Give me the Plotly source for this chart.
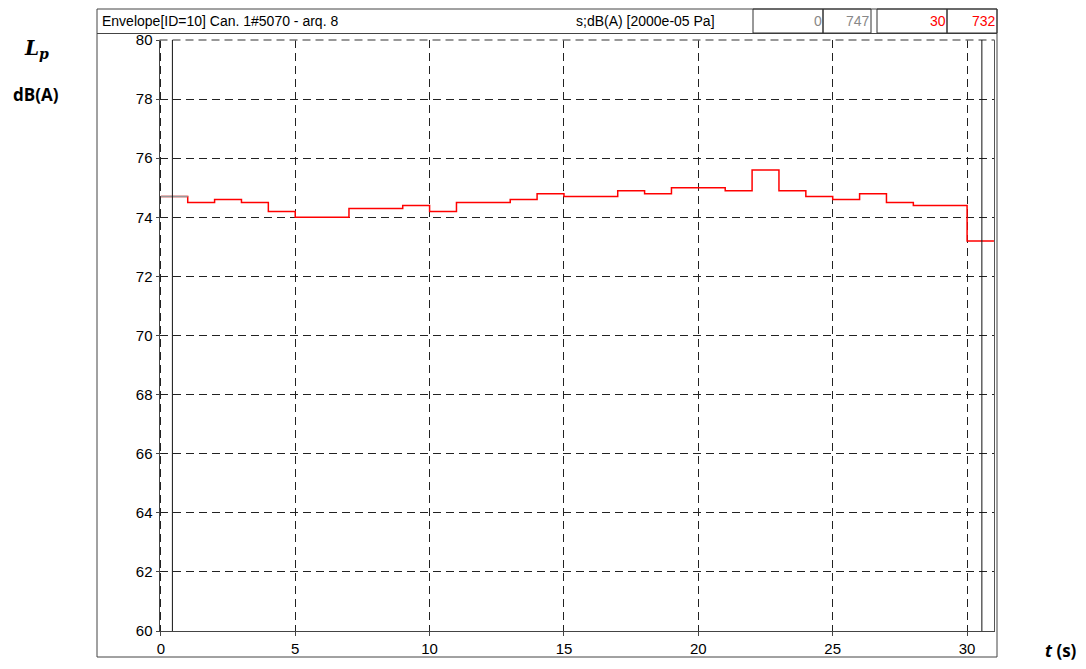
import plotly.graph_objects as go

# ---- data ----
times = list(range(0, 32))  # step edges, seconds
levels = [74.7, 74.5, 74.6, 74.5, 74.2, 74.0, 74.0, 74.3, 74.3, 74.4,
          74.2, 74.5, 74.5, 74.6, 74.8, 74.7, 74.7, 74.9, 74.8, 75.0,
          75.0, 74.9, 75.6, 74.9, 74.7, 74.6, 74.8, 74.5, 74.4, 74.4,
          73.2]
cursor_times = [0.43, 30.55]
x_ticks = [0, 5, 10, 15, 20, 25, 30]
y_ticks = [60, 62, 64, 66, 68, 70, 72, 74, 76, 78, 80]
header_left = "Envelope[ID=10] Can. 1#5070 - arq. 8"
header_mid = "s;dB(A) [2000e-05 Pa]"
cursor_a = ("0", "747")
cursor_b = ("30", "732")

W, H = 1086, 669
def px(x):
    return x / W
def py(y):
    return 1 - y / H

FONT = "Liberation Sans Narrow, Arial Narrow, Liberation Sans, Arial, sans-serif"

y_step = levels + [levels[-1]]

fig = go.Figure()
fig.add_trace(go.Scatter(x=times, y=y_step, mode="lines", line_shape="hv",
                         line=dict(color="#ff0000", width=1.5), showlegend=False,
                         hoverinfo="skip"))
fig.add_trace(go.Scatter(x=times[:2], y=[levels[0], levels[0]], mode="lines",
                         line=dict(color="#999999", width=1.5), showlegend=False,
                         hoverinfo="skip"))

shapes = []
# outer frame
shapes.append(dict(type="rect", xref="paper", yref="paper",
                   x0=px(97), x1=px(997), y0=py(657), y1=py(9),
                   line=dict(color="#444", width=1)))
# header bottom line
shapes.append(dict(type="line", xref="paper", yref="paper",
                   x0=px(97), x1=px(997), y0=py(33.5), y1=py(33.5),
                   line=dict(color="#444", width=1)))
# header value boxes
for (a, b) in [(753, 823), (823, 871), (877, 947), (947, 997)]:
    shapes.append(dict(type="rect", xref="paper", yref="paper",
                       x0=px(a), x1=px(b), y0=py(33), y1=py(9),
                       line=dict(color="#333", width=1)))
# right plot border
shapes.append(dict(type="line", xref="x domain", yref="y domain",
                   x0=1, x1=1, y0=0, y1=1, line=dict(color="#555", width=1)))
# top dashed border
shapes.append(dict(type="line", xref="x domain", yref="y domain",
                   x0=0, x1=1, y0=1, y1=1, line=dict(color="#777", width=1.5, dash="8px,5px")))
# cursors
for c in cursor_times:
    shapes.append(dict(type="line", xref="x", yref="y domain",
                       x0=c, x1=c, y0=0, y1=1, line=dict(color="#111", width=1)))

annotations = [
    dict(text=header_left, x=px(100), y=py(21), xref="paper", yref="paper",
         xanchor="left", yanchor="middle", showarrow=False,
         font=dict(family=FONT, size=14, color="#000")),
    dict(text=header_mid, x=px(645), y=py(21), xref="paper", yref="paper",
         xanchor="center", yanchor="middle", showarrow=False,
         font=dict(family=FONT, size=14, color="#000")),
    dict(text=cursor_a[0], x=px(824), y=py(21), xref="paper", yref="paper",
         xanchor="right", yanchor="middle", showarrow=False,
         font=dict(family=FONT, size=14, color="#888")),
    dict(text=cursor_a[1], x=px(872), y=py(21), xref="paper", yref="paper",
         xanchor="right", yanchor="middle", showarrow=False,
         font=dict(family=FONT, size=14, color="#888")),
    dict(text=cursor_b[0], x=px(948), y=py(21), xref="paper", yref="paper",
         xanchor="right", yanchor="middle", showarrow=False,
         font=dict(family=FONT, size=14, color="#ff0000")),
    dict(text=cursor_b[1], x=px(998), y=py(21), xref="paper", yref="paper",
         xanchor="right", yanchor="middle", showarrow=False,
         font=dict(family=FONT, size=14, color="#ff0000")),
    dict(text="<b><i>L</i></b><sub><b><i>p</i></b></sub>", x=px(36), y=py(49),
         xref="paper", yref="paper", xanchor="center", yanchor="middle",
         showarrow=False, font=dict(family="DejaVu Serif, Liberation Serif, serif", size=20, color="#000")),
    dict(text="<b>dB(A)</b>", x=px(36), y=py(94), xref="paper", yref="paper",
         xanchor="center", yanchor="middle", showarrow=False,
         font=dict(family="Open Sans, sans-serif", size=17, color="#000")),
    dict(text="<b><i>t</i> (s)</b>", x=px(1061), y=py(650), xref="paper", yref="paper",
         xanchor="center", yanchor="middle", showarrow=False,
         font=dict(family="Open Sans, sans-serif", size=17, color="#000")),
]

fig.update_layout(
    width=W, height=H,
    margin=dict(l=0, r=0, t=0, b=0),
    paper_bgcolor="white", plot_bgcolor="white",
    shapes=shapes, annotations=annotations,
    xaxis=dict(domain=[px(159.5), px(994.5)], range=[-0.05, 31.02],
               tickvals=x_ticks, ticktext=[str(v) for v in x_ticks],
               showgrid=True, gridcolor="#222", gridwidth=1, griddash="8px,5px",
               showline=True, linecolor="#444", linewidth=1,
               ticks="outside", ticklen=4, tickcolor="#444", automargin=False,
               zeroline=False, tickfont=dict(family=FONT, size=15, color="#000")),
    yaxis=dict(domain=[py(631), py(40)], range=[60, 80],
               tickvals=y_ticks, ticktext=[str(v) for v in y_ticks],
               showgrid=True, gridcolor="#222", gridwidth=1, griddash="8px,5px",
               showline=True, linecolor="#444", linewidth=1,
               ticks="outside", ticklen=3, tickcolor="#444", automargin=False,
               zeroline=False, tickfont=dict(family=FONT, size=15, color="#000")),
)

fig.write_html("out.html")
